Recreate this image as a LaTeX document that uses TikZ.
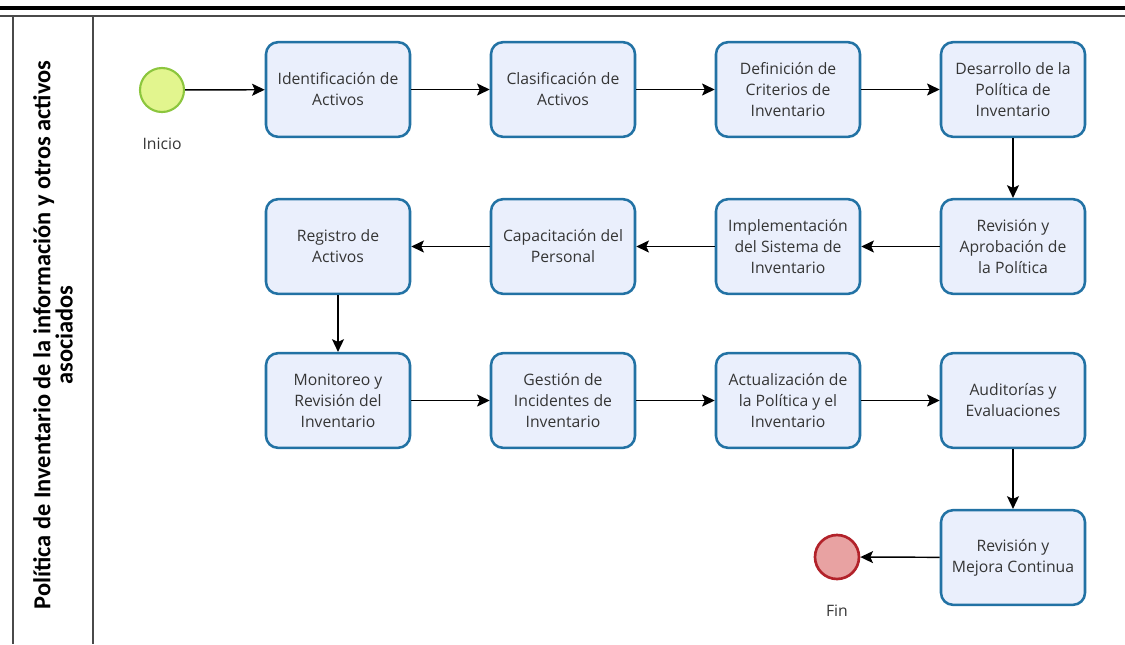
\documentclass[tikz,border=0pt]{standalone}
\usepackage{fontspec}
\setmainfont{Open Sans}
\newfontfamily\lanefont{Carlito}
\usetikzlibrary{arrows.meta}

\definecolor{taskfill}{HTML}{EAEFFC}
\definecolor{taskline}{HTML}{2272A4}
\definecolor{tasktext}{HTML}{353535}
\definecolor{startfill}{HTML}{E2F58E}
\definecolor{startline}{HTML}{8CC63E}
\definecolor{endfill}{HTML}{E8A2A2}
\definecolor{endline}{HTML}{B2222A}
\definecolor{poolline}{HTML}{4A4A4A}

\begin{document}
\begin{tikzpicture}[x=0.75pt,y=-0.75pt,
  task/.style={draw=taskline, line width=1.9pt, fill=taskfill,
    rounded corners=9pt, minimum width=108pt, minimum height=71pt,
    inner sep=0pt, align=center, text=tasktext,
    font=\fontsize{11.8}{15.8}\selectfont},
  startev/.style={circle, draw=startline, line width=1.6pt, fill=startfill,
    minimum size=33pt, inner sep=0pt},
  endev/.style={circle, draw=endline, line width=2pt, fill=endfill,
    minimum size=33pt, inner sep=0pt},
  evlabel/.style={text=tasktext, font=\fontsize{11.8}{14}\selectfont, inner sep=0pt},
  flow/.style={draw=black, line width=1.1pt,
    -{Stealth[length=9.5pt, width=9pt, inset=2pt]}},
  poolrule/.style={draw=poolline, line width=1.1pt}]

\useasboundingbox (0,0) rectangle (1125,644);

% pool frame and lane header
\draw[line width=2.4pt] (0,8) -- (1125,8);
\draw[poolrule] (0,16) -- (1125,16);
\draw[poolrule] (13,16) -- (13,644);
\draw[poolrule] (93,16) -- (93,644);
\node[rotate=90, align=center, inner sep=0pt,
      font=\lanefont\bfseries\fontsize{18.3}{15.5}\selectfont] (lane) at (53,335)
  {Política de Inventario de la información y otros activos\\asociados};

% events
\node[startev] (start) at (162,90) {};
\node[evlabel] (startlbl) at (162,144) {Inicio};
\node[endev] (end) at (837,557) {};
\node[evlabel] (endlbl) at (837,611) {Fin};

% tasks, row 1
\node[task] (t1) at (338,89.5) {Identificación de\\Activos};
\node[task] (t2) at (563,89.5) {Clasificación de\\Activos};
\node[task] (t3) at (788,89.5) {Definición de\\Criterios de\\Inventario};
\node[task] (t4) at (1013,89.5) {Desarrollo de la\\Política de\\Inventario};
% row 2
\node[task] (t5) at (1013,246.5) {Revisión y\\Aprobación de\\la Política};
\node[task] (t6) at (788,246.5) {Implementación\\del Sistema de\\Inventario};
\node[task] (t7) at (563,246.5) {Capacitación del\\Personal};
\node[task] (t8) at (338,246.5) {Registro de\\Activos};
% row 3
\node[task] (t9) at (338,400.5) {Monitoreo y\\Revisión del\\Inventario};
\node[task] (t10) at (563,400.5) {Gestión de\\Incidentes de\\Inventario};
\node[task] (t11) at (788,400.5) {Actualización de\\la Política y el\\Inventario};
\node[task] (t12) at (1013,400.5) {Auditorías y\\Evaluaciones};
% row 4
\node[task] (t13) at (1013,557.5) {Revisión y\\Mejora Continua};

% sequence flows
\draw[flow] (start) -- (t1);
\draw[flow] (t1) -- (t2);
\draw[flow] (t2) -- (t3);
\draw[flow] (t3) -- (t4);
\draw[flow] (t4) -- (t5);
\draw[flow] (t5) -- (t6);
\draw[flow] (t6) -- (t7);
\draw[flow] (t7) -- (t8);
\draw[flow] (t8) -- (t9);
\draw[flow] (t9) -- (t10);
\draw[flow] (t10) -- (t11);
\draw[flow] (t11) -- (t12);
\draw[flow] (t12) -- (t13);
\draw[flow] (t13) -- (end);
\end{tikzpicture}
\end{document}
